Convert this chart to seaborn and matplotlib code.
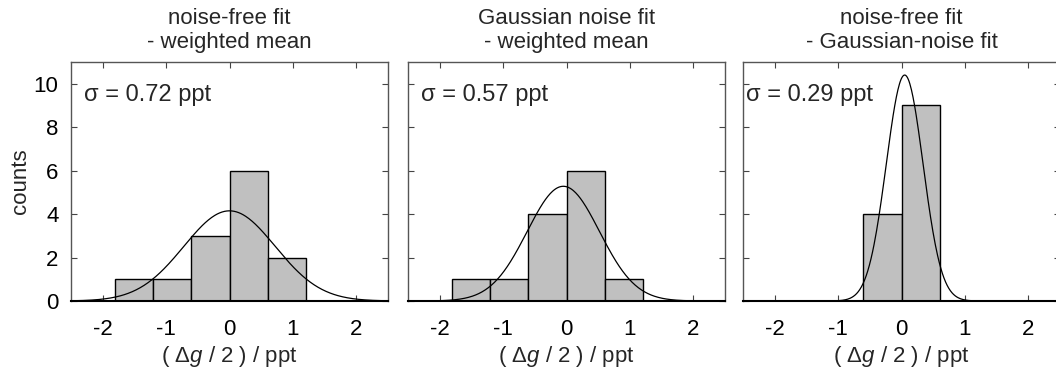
import numpy as np
import pandas as pd
import seaborn as sns
import matplotlib
matplotlib.use("Agg")
import matplotlib.pyplot as plt

sns.set_theme(style="white")
plt.rcParams['font.family'] = ['Liberation Sans', 'DejaVu Sans']
plt.rcParams['mathtext.fontset'] = 'custom'
plt.rcParams['mathtext.rm'] = 'Liberation Sans'
plt.rcParams['mathtext.it'] = 'Liberation Sans:italic'

# histogram bins (ppt)
bin_edges = [-1.8, -1.2, -0.6, 0.0, 0.6, 1.2]
bin_centers = [-1.5, -0.9, -0.3, 0.3, 0.9]

titles = ["noise-free fit\n- weighted mean",
          "Gaussian noise fit\n- weighted mean",
          "noise-free fit\n- Gaussian-noise fit"]
counts_1 = [1, 1, 3, 6, 2]
counts_2 = [1, 1, 4, 6, 1]
counts_3 = [0, 0, 4, 9, 0]
all_counts = [counts_1, counts_2, counts_3]

# fitted gaussians: centre, sigma, peak height
fit_mu = [0.0, -0.05, 0.05]
fit_sigma = [0.72, 0.57, 0.29]
fit_peak = [4.15, 5.28, 10.4]
sigma_labels = ["σ = 0.72 ppt", "σ = 0.57 ppt", "σ = 0.29 ppt"]

xticks = [-2, -1, 0, 1, 2]
yticks = [0, 2, 4, 6, 8, 10]

fs = 16

fig = plt.figure(figsize=(10.56, 3.72), dpi=100)
lefts = [71, 408, 743]
axw = 317
for i in range(3):
    ax = fig.add_axes([lefts[i] / 1056, 1 - 301 / 372, axw / 1056, (301 - 62) / 372])
    df = pd.DataFrame({"x": bin_centers, "w": all_counts[i]})
    df = df[df["w"] > 0]
    sns.histplot(data=df, x="x", weights="w", bins=bin_edges, ax=ax,
                 color="#c0c0c0", edgecolor="black", linewidth=1, alpha=1)
    xx = np.linspace(-2.5, 2.5, 400)
    yy = fit_peak[i] * np.exp(-0.5 * ((xx - fit_mu[i]) / fit_sigma[i]) ** 2)
    sns.lineplot(x=xx, y=yy, ax=ax, color="black", linewidth=0.9)

    ax.set_xlim(-2.5, 2.5)
    ax.set_ylim(0, 11)
    ax.set_xticks(xticks)
    ax.set_xticklabels([str(t) for t in xticks])
    ax.set_yticks(yticks)
    if i == 0:
        ax.set_yticklabels([str(t) for t in yticks])
        ax.set_ylabel("counts", fontsize=fs, labelpad=2)
    else:
        ax.set_yticklabels([])
        ax.set_ylabel("")
    ax.tick_params(axis="x", pad=13)
    ax.tick_params(axis="y", pad=9)
    ax.tick_params(direction="in", length=4, width=0.8, top=True, right=True,
                   bottom=True, left=True, labelsize=fs, colors="#444444",
                   labelcolor="black")
    ax.set_xlabel("( Δ$g$ / 2 ) / ppt", fontsize=fs, labelpad=3)
    ax.set_title(titles[i], fontsize=fs, pad=10, linespacing=1.2)
    for s in ["top", "left", "right"]:
        ax.spines[s].set_color("#555555")
        ax.spines[s].set_linewidth(1.0)
    ax.spines["bottom"].set_color("black")
    ax.spines["bottom"].set_linewidth(1.5)
    ax.text(0.04 if i < 2 else 0.01, 0.91, sigma_labels[i], transform=ax.transAxes,
            fontsize=17, va="top", ha="left")
    ax.grid(False)

fig.savefig("out.png", dpi=100)
